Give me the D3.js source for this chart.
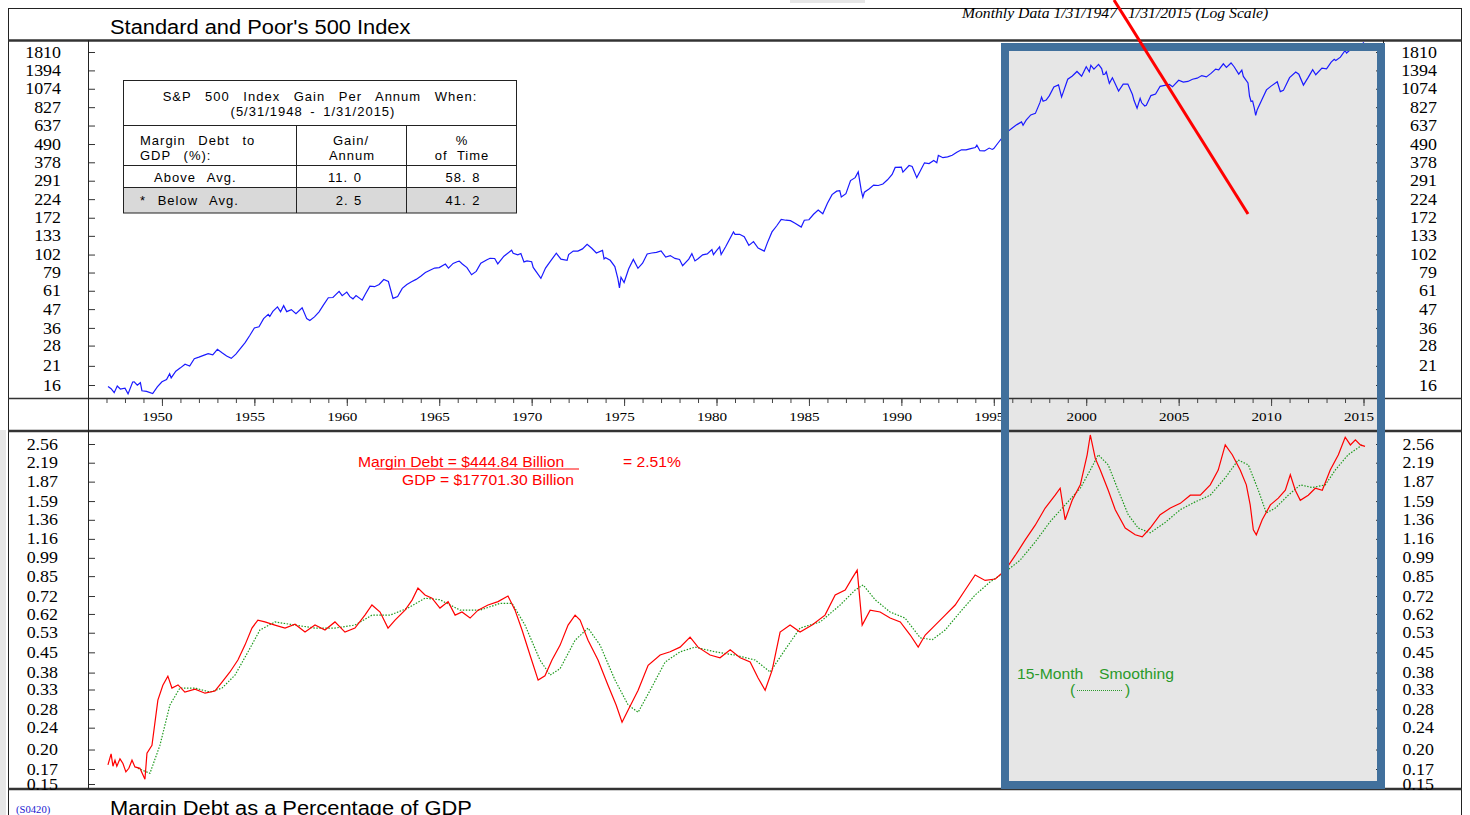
<!DOCTYPE html>
<html>
<head>
<meta charset="utf-8">
<script src="https://cdn.jsdelivr.net/npm/d3@7"></script>
<style>
  body { margin: 0; background: #fff; }
  svg { display: block; }
</style>
</head>
<body>
<svg width="1470" height="815"></svg>
<script>
// S&P 500 month-end closes
const spx = [
  ['1947-01',15.66],['1947-03',15.17],['1947-05',14.34],['1947-07',15.77],['1947-09',15.11],['1947-12',15.30],
  ['1948-02',14.10],['1948-05',16.69],['1948-06',16.74],['1948-08',15.97],['1948-10',16.54],['1948-11',14.75],
  ['1949-02',14.62],['1949-06',14.16],['1949-09',15.58],['1949-12',16.76],
  ['1950-03',17.29],['1950-05',18.78],['1950-06',17.69],['1950-09',19.45],['1950-12',20.41],
  ['1951-03',21.48],['1951-06',20.96],['1951-09',23.26],['1951-12',23.77],
  ['1952-03',24.37],['1952-06',24.96],['1952-09',24.54],['1952-12',26.57],
  ['1953-03',25.29],['1953-06',24.14],['1953-09',23.35],['1953-12',24.81],
  ['1954-03',26.94],['1954-06',29.21],['1954-09',32.31],['1954-12',35.98],
  ['1955-03',36.58],['1955-06',41.03],['1955-09',43.67],['1955-10',42.34],['1955-12',45.48],
  ['1956-03',48.48],['1956-05',45.20],['1956-07',49.39],['1956-09',45.35],['1956-12',46.67],
  ['1957-03',44.11],['1957-07',47.91],['1957-10',41.06],['1957-12',39.99],
  ['1958-03',42.10],['1958-06',45.24],['1958-09',50.06],['1958-12',55.21],
  ['1959-03',55.44],['1959-07',60.51],['1959-09',56.88],['1959-12',59.89],
  ['1960-02',56.12],['1960-04',54.37],['1960-06',56.92],['1960-10',53.39],['1960-12',58.11],
  ['1961-03',65.06],['1961-06',64.64],['1961-09',66.73],['1961-12',71.55],
  ['1962-03',69.55],['1962-06',54.75],['1962-09',56.27],['1962-12',63.10],
  ['1963-03',66.57],['1963-06',69.37],['1963-09',71.70],['1963-12',75.02],
  ['1964-03',78.98],['1964-06',81.69],['1964-09',84.18],['1964-12',84.75],
  ['1965-04',89.11],['1965-06',84.12],['1965-09',89.96],['1965-12',92.43],
  ['1966-01',92.88],['1966-03',89.23],['1966-06',84.74],['1966-09',76.56],['1966-12',80.33],
  ['1967-03',90.20],['1967-07',94.75],['1967-09',96.71],['1967-12',96.47],
  ['1968-02',89.36],['1968-06',99.58],['1968-11',108.37],['1968-12',103.86],
  ['1969-03',101.51],['1969-05',103.46],['1969-07',91.83],['1969-09',93.12],['1969-12',92.06],
  ['1970-01',85.02],['1970-06',72.72],['1970-09',84.21],['1970-12',92.15],
  ['1971-04',103.95],['1971-07',95.58],['1971-11',93.99],['1971-12',102.09],
  ['1972-03',107.20],['1972-06',107.14],['1972-09',110.55],['1972-12',118.05],
  ['1973-03',111.52],['1973-06',104.26],['1973-10',108.29],['1973-11',95.96],['1973-12',97.55],
  ['1974-03',93.98],['1974-06',86.00],['1974-08',72.15],['1974-09',63.54],['1974-10',73.90],['1974-12',68.56],
  ['1975-03',83.36],['1975-06',95.19],['1975-09',83.87],['1975-12',90.19],
  ['1976-03',102.77],['1976-06',104.28],['1976-09',105.24],['1976-12',107.46],
  ['1977-03',98.42],['1977-06',100.48],['1977-09',96.53],['1977-12',95.10],
  ['1978-02',87.04],['1978-06',95.53],['1978-08',103.29],['1978-10',93.15],['1978-12',96.11],
  ['1979-03',101.59],['1979-06',102.91],['1979-09',109.32],['1979-10',101.82],['1979-12',107.94],
  ['1980-02',113.66],['1980-03',102.09],['1980-06',114.24],['1980-11',140.52],['1980-12',135.76],
  ['1981-03',136.00],['1981-06',131.21],['1981-09',116.18],['1981-12',122.55],
  ['1982-03',111.96],['1982-07',107.09],['1982-09',120.42],['1982-12',140.64],
  ['1983-03',152.96],['1983-06',168.11],['1983-09',166.07],['1983-12',164.93],
  ['1984-03',159.18],['1984-07',150.66],['1984-09',166.10],['1984-12',167.24],
  ['1985-03',180.66],['1985-06',191.85],['1985-09',182.08],['1985-12',211.28],
  ['1986-03',238.90],['1986-06',250.84],['1986-08',252.93],['1986-09',231.32],['1986-12',242.17],
  ['1987-03',291.70],['1987-06',304.00],['1987-08',329.80],['1987-10',251.79],['1987-11',230.30],['1987-12',247.08],
  ['1988-03',258.89],['1988-06',273.50],['1988-09',271.91],['1988-12',277.72],
  ['1989-03',294.87],['1989-06',317.98],['1989-08',351.45],['1989-12',353.40],
  ['1990-01',329.08],['1990-05',361.23],['1990-07',356.15],['1990-10',304.00],['1990-12',330.22],
  ['1991-03',375.22],['1991-06',371.16],['1991-09',387.86],['1991-11',375.22],['1991-12',417.09],
  ['1992-03',403.69],['1992-06',408.14],['1992-09',417.80],['1992-12',435.71],
  ['1993-03',451.67],['1993-06',450.53],['1993-09',458.93],['1993-12',466.45],
  ['1994-01',481.61],['1994-03',445.77],['1994-06',444.27],['1994-09',462.69],['1994-11',453.69],['1994-12',459.27],
  ['1995-03',500.71],['1995-06',544.75],['1995-09',584.41],['1995-12',615.93],
  ['1996-03',645.50],['1996-06',670.63],['1996-07',639.95],['1996-09',687.31],['1996-12',740.74],
  ['1997-03',757.12],['1997-06',885.14],['1997-07',954.29],['1997-08',899.47],['1997-10',914.62],['1997-12',970.43],
  ['1998-03',1101.75],['1998-06',1133.84],['1998-08',957.28],['1998-09',1017.01],['1998-12',1229.23],
  ['1999-03',1286.37],['1999-06',1372.71],['1999-09',1282.71],['1999-12',1469.25],
  ['2000-02',1366.42],['2000-03',1498.58],['2000-05',1420.60],['2000-08',1517.68],['2000-10',1429.40],['2000-11',1314.95],['2000-12',1320.28],
  ['2001-01',1366.01],['2001-03',1160.33],['2001-05',1255.82],['2001-09',1040.94],['2001-12',1148.08],
  ['2002-03',1147.39],['2002-06',989.82],['2002-07',911.62],['2002-09',815.28],['2002-11',936.31],['2002-12',879.82],
  ['2003-02',841.15],['2003-03',848.18],['2003-06',974.50],['2003-09',995.97],['2003-12',1111.92],
  ['2004-03',1126.21],['2004-06',1140.84],['2004-08',1104.24],['2004-12',1211.92],
  ['2005-03',1180.59],['2005-06',1191.33],['2005-09',1228.81],['2005-12',1248.29],
  ['2006-03',1294.87],['2006-06',1270.20],['2006-09',1335.85],['2006-12',1418.30],
  ['2007-02',1406.82],['2007-05',1530.62],['2007-07',1455.27],['2007-10',1549.38],['2007-12',1468.36],
  ['2008-03',1322.70],['2008-05',1400.38],['2008-06',1280.00],['2008-09',1166.36],['2008-10',968.75],['2008-11',896.24],['2008-12',903.25],
  ['2009-01',825.88],['2009-02',735.09],['2009-03',797.87],['2009-06',919.32],['2009-09',1057.08],['2009-12',1115.10],
  ['2010-04',1186.69],['2010-06',1030.71],['2010-08',1049.33],['2010-12',1257.64],
  ['2011-04',1363.61],['2011-06',1320.64],['2011-09',1131.42],['2011-12',1257.60],
  ['2012-03',1408.47],['2012-05',1310.33],['2012-09',1440.67],['2012-12',1426.19],
  ['2013-03',1569.19],['2013-05',1630.74],['2013-06',1606.28],['2013-09',1681.55],['2013-12',1848.36],
  ['2014-01',1782.59],['2014-06',1960.23],['2014-09',1972.29],['2014-12',2058.90],
  ['2015-01',1994.99]
];

// margin debt as % of GDP (red), [year, %]
const marginPct = [
  [1947.08,0.176],[1947.25,0.193],[1947.35,0.174],[1947.46,0.183],[1947.56,0.174],[1947.73,0.185],[1947.89,0.178],
  [1948.05,0.166],[1948.21,0.171],[1948.38,0.183],[1948.54,0.173],[1948.81,0.171],[1949.08,0.156],[1949.19,0.194],
  [1949.46,0.207],[1949.78,0.302],[1950.05,0.342],[1950.32,0.369],[1950.54,0.334],[1950.87,0.343],[1951.24,0.323],
  [1951.79,0.331],[1952.33,0.320],[1952.87,0.326],[1953.25,0.351],[1953.68,0.382],[1954.11,0.422],[1954.49,0.478],
  [1954.87,0.551],[1955.19,0.589],[1955.57,0.580],[1956.11,0.565],[1956.66,0.551],[1957.2,0.569],[1957.74,0.533],
  [1958.28,0.565],[1958.82,0.542],[1959.36,0.580],[1959.9,0.533],[1960.44,0.551],[1960.98,0.614],[1961.36,0.668],
  [1961.8,0.630],[1962.23,0.551],[1962.61,0.589],[1963.15,0.640],[1963.53,0.696],[1963.85,0.770],[1964.23,0.726],
  [1964.61,0.707],[1965.04,0.651],[1965.48,0.687],[1965.86,0.614],[1966.23,0.630],[1966.67,0.599],[1967.1,0.640],
  [1967.64,0.668],[1968.18,0.687],[1968.72,0.720],[1969.1,0.640],[1969.48,0.542],[1969.91,0.440],[1970.35,0.357],
  [1970.72,0.370],[1971.1,0.422],[1971.54,0.478],[1971.97,0.565],[1972.35,0.614],[1972.62,0.589],[1973.05,0.498],
  [1973.59,0.422],[1974.13,0.342],[1974.57,0.290],[1974.89,0.251],[1975.22,0.278],[1975.76,0.328],[1976.3,0.404],
  [1976.95,0.440],[1977.49,0.452],[1978.03,0.470],[1978.57,0.511],[1979.0,0.470],[1979.65,0.440],[1980.19,0.430],
  [1980.74,0.460],[1981.28,0.430],[1981.82,0.415],[1982.25,0.363],[1982.63,0.328],[1983.01,0.388],[1983.44,0.533],
  [1983.98,0.565],[1984.52,0.533],[1985.17,0.565],[1985.87,0.614],[1986.42,0.726],[1986.96,0.757],[1987.34,0.836],
  [1987.61,0.894],[1987.88,0.565],[1988.31,0.640],[1988.85,0.630],[1989.39,0.599],[1989.94,0.580],[1990.48,0.520],
  [1990.91,0.470],[1991.29,0.520],[1991.83,0.565],[1992.37,0.614],[1992.91,0.668],[1993.45,0.757],[1993.99,0.858],
  [1994.53,0.820],[1995.08,0.830],[1995.62,0.894],[1996.16,1.01],[1996.7,1.15],[1997.24,1.30],[1997.78,1.50],
  [1998.32,1.67],[1998.59,1.77],[1998.86,1.36],[1999.24,1.60],[1999.68,1.82],[2000.05,2.34],[2000.22,2.76],
  [2000.49,2.27],[2000.76,2.06],[2001.19,1.74],[2001.57,1.48],[2002.11,1.27],[2002.65,1.20],[2003.03,1.18],
  [2003.46,1.27],[2004.0,1.42],[2004.55,1.50],[2005.09,1.56],[2005.63,1.67],[2006.17,1.67],[2006.71,1.82],
  [2007.14,2.06],[2007.52,2.54],[2007.9,2.34],[2008.33,2.06],[2008.66,1.82],[2008.87,1.54],[2009.04,1.25],
  [2009.2,1.20],[2009.52,1.36],[2009.96,1.54],[2010.39,1.63],[2010.77,1.74],[2011.04,1.98],[2011.31,1.74],
  [2011.58,1.60],[2012.01,1.67],[2012.39,1.77],[2012.77,1.74],[2013.2,2.06],[2013.64,2.34],[2014.01,2.71],
  [2014.29,2.54],[2014.56,2.65],[2014.83,2.54],[2015.08,2.51]
];

// 15-month smoothing (green dotted), [year, %]
const marginSmooth = [
  [1948.7,0.171],[1949.35,0.164],[1949.89,0.207],[1950.43,0.290],[1950.97,0.334],[1951.79,0.334],[1952.6,0.323],
  [1953.25,0.334],[1953.95,0.372],[1954.65,0.451],[1955.3,0.542],[1956.11,0.580],[1957.2,0.565],[1958.28,0.551],
  [1959.36,0.551],[1960.44,0.565],[1961.36,0.614],[1962.34,0.614],[1963.31,0.651],[1964.23,0.707],[1965.04,0.698],
  [1966.13,0.640],[1967.21,0.640],[1968.29,0.677],[1968.94,0.677],[1969.64,0.565],[1970.45,0.422],[1971.0,0.372],
  [1971.54,0.393],[1972.35,0.498],[1973.05,0.551],[1973.7,0.478],[1974.51,0.357],[1975.22,0.290],[1975.76,0.273],
  [1976.41,0.328],[1977.22,0.415],[1978.03,0.452],[1978.84,0.470],[1979.92,0.452],[1981.0,0.440],[1982.09,0.422],
  [1982.9,0.382],[1983.71,0.460],[1984.52,0.551],[1985.61,0.580],[1986.69,0.668],[1987.5,0.757],[1987.93,0.790],
  [1988.58,0.698],[1989.39,0.630],[1990.2,0.599],[1991.02,0.508],[1991.67,0.500],[1992.37,0.542],[1993.18,0.630],
  [1993.99,0.726],[1994.8,0.810],[1995.62,0.880],[1996.43,0.972],[1997.24,1.13],[1998.05,1.34],[1998.86,1.54],
  [1999.68,1.77],[2000.22,2.06],[2000.65,2.34],[2001.19,2.15],[2001.73,1.74],[2002.27,1.42],[2002.81,1.27],
  [2003.46,1.22],[2004.27,1.33],[2005.09,1.48],[2005.9,1.58],[2006.71,1.67],[2007.52,1.93],[2008.22,2.24],
  [2008.77,2.15],[2009.31,1.74],[2009.74,1.44],[2010.23,1.50],[2010.93,1.67],[2011.58,1.82],[2012.23,1.78],
  [2012.93,1.82],[2013.47,2.06],[2014.17,2.34],[2014.93,2.54]
];

const spxTicks = [16, 21, 28, 36, 47, 61, 79, 102, 133, 172, 224, 291, 378, 490, 637, 827, 1074, 1394, 1810];
const marginTicks = [0.15, 0.17, 0.20, 0.24, 0.28, 0.33, 0.38, 0.45, 0.53, 0.62, 0.72, 0.85, 0.99, 1.16, 1.36, 1.59, 1.87, 2.19, 2.56];
const yearLabels = [1950, 1955, 1960, 1965, 1970, 1975, 1980, 1985, 1990, 1995, 2000, 2005, 2010, 2015];
const yearTicks = d3.range(1947, 2016);

const tableRows = [
  ['Above Avg.', '11. 0', '58. 8'],
  ['* Below Avg.', '2. 5', '41. 2']
];

const svg = d3.select('svg');
svg.selectAll('*').remove();

const left = 88, right = 1383;
const x = d3.scaleLinear().domain([1946, 2016]).range([left, 1382]);
const ySpx = d3.scaleLog().domain([16, 1810]).range([385, 52]);
const yMar = d3.scaleLog().domain([0.15, 2.56]).range([784, 444]);

const parseMonth = s => +s.slice(0, 4) + (+s.slice(5, 7)) / 12;

// text in the original is drawn a little wide
function stretch(sel, k = 1.12) {
  sel.each(function() {
    const w = this.getComputedTextLength();
    d3.select(this).attr('textLength', w * k).attr('lengthAdjust', 'spacingAndGlyphs');
  });
}

svg.append('rect').attr('width', 1470).attr('height', 815).attr('fill', '#fff');
svg.append('rect').attr('x', 790).attr('y', 0).attr('width', 75).attr('height', 3).attr('fill', '#e6e6e6');
svg.append('rect').attr('x', 0).attr('y', 430).attr('width', 6).attr('height', 385).attr('fill', '#e6e6e6');

// shaded box behind the lines
svg.append('rect')
  .attr('x', 1005).attr('y', 47).attr('width', 376).attr('height', 738)
  .attr('fill', '#e6e6e6');

// frame
const frame = svg.append('g').attr('stroke', '#222').attr('fill', 'none');
frame.append('line').attr('x1', 8).attr('x2', 1462).attr('y1', 8.5).attr('y2', 8.5).attr('stroke-width', 1);
frame.append('line').attr('x1', 8.5).attr('x2', 8.5).attr('y1', 8).attr('y2', 815).attr('stroke-width', 1);
frame.append('line').attr('x1', 1461.5).attr('x2', 1461.5).attr('y1', 8).attr('y2', 815).attr('stroke-width', 1);
frame.append('line').attr('x1', 8).attr('x2', 1462).attr('y1', 40.5).attr('y2', 40.5).attr('stroke-width', 2.5).attr('stroke', '#333');
frame.append('line').attr('x1', 8).attr('x2', 1462).attr('y1', 398.5).attr('y2', 398.5).attr('stroke-width', 1.5).attr('stroke', '#333');
frame.append('line').attr('x1', 8).attr('x2', 1462).attr('y1', 431).attr('y2', 431).attr('stroke-width', 2.5).attr('stroke', '#333');
frame.append('line').attr('x1', 8).attr('x2', 1462).attr('y1', 789).attr('y2', 789).attr('stroke-width', 2.5).attr('stroke', '#333');

// y axes, top panel
const axTop = svg.append('g').attr('transform', `translate(${left},0)`)
  .call(d3.axisLeft(ySpx).tickValues(spxTicks).tickFormat(d3.format('d')).tickSize(-7).tickPadding(27));
const axTopR = svg.append('g').attr('transform', `translate(${right},0)`)
  .call(d3.axisRight(ySpx).tickValues(spxTicks).tickFormat(d3.format('d')).tickSize(-7).tickPadding(54));
// y axes, bottom panel
const axBot = svg.append('g').attr('transform', `translate(${left},0)`)
  .call(d3.axisLeft(yMar).tickValues(marginTicks).tickFormat(d3.format('.2f')).tickSize(-7).tickPadding(30));
const axBotR = svg.append('g').attr('transform', `translate(${right},0)`)
  .call(d3.axisRight(yMar).tickValues(marginTicks).tickFormat(d3.format('.2f')).tickSize(-7).tickPadding(51));

[axTop, axTopR, axBot, axBotR].forEach(g => {
  g.select('.domain').remove();
  g.selectAll('.tick line').attr('stroke', '#333');
  g.selectAll('text').attr('font-family', '"Liberation Serif", "Times New Roman", serif')
    .attr('font-size', 16).attr('fill', '#000');
});
[axTopR, axBotR].forEach(g => g.selectAll('text').attr('text-anchor', 'end'));

// axis lines (full height)
svg.append('line').attr('x1', left + 0.5).attr('x2', left + 0.5).attr('y1', 40).attr('y2', 789).attr('stroke', '#222');
svg.append('line').attr('x1', right + 0.5).attr('x2', right + 0.5).attr('y1', 40).attr('y2', 789).attr('stroke', '#222');

// x axis in the middle strip
const axX = svg.append('g').attr('transform', 'translate(0,399)')
  .call(d3.axisBottom(x).tickValues(yearTicks).tickSize(4).tickFormat(''));
axX.select('.domain').remove();
axX.selectAll('.tick line').attr('stroke', '#444');
const axXMaj = svg.append('g').attr('transform', 'translate(0,399)')
  .call(d3.axisBottom(x).tickValues(yearLabels).tickSize(7).tickPadding(5).tickFormat(d3.format('d')));
axXMaj.select('.domain').remove();
axXMaj.selectAll('.tick line').attr('stroke', '#444');
axXMaj.selectAll('text')
  .attr('font-family', '"Liberation Serif", "Times New Roman", serif')
  .attr('font-size', 13.5).attr('fill', '#000').attr('dx', -5);

// lines
const lineSpx = d3.line().x(d => x(parseMonth(d[0]))).y(d => ySpx(d[1]));
const lineMar = d3.line().x(d => x(d[0])).y(d => yMar(d[1]));

svg.append('path').attr('d', lineSpx(spx))
  .attr('fill', 'none').attr('stroke', '#1a1aff').attr('stroke-width', 1.2);
svg.append('path').attr('d', lineMar(marginSmooth))
  .attr('fill', 'none').attr('stroke', '#1f9a1f').attr('stroke-width', 1.2).attr('stroke-dasharray', '1.5,1.5');
svg.append('path').attr('d', lineMar(marginPct))
  .attr('fill', 'none').attr('stroke', '#ff0000').attr('stroke-width', 1.2);

// highlight box border
svg.append('rect')
  .attr('x', 1005).attr('y', 47).attr('width', 376).attr('height', 738)
  .attr('fill', 'none').attr('stroke', '#41709c').attr('stroke-width', 8);

// red pointer
svg.append('line').attr('x1', 1114).attr('y1', 0).attr('x2', 1248).attr('y2', 214)
  .attr('stroke', '#ff0000').attr('stroke-width', 3);

// titles
const sans = 'Arial, "Liberation Sans", Helvetica, sans-serif';
const serif = '"Liberation Serif", "Times New Roman", serif';
svg.append('text').attr('x', 110).attr('y', 34).text("Standard and Poor's 500 Index")
  .attr('font-family', sans).attr('font-size', 19.5).attr('fill', '#000');
svg.append('text').attr('x', 110).attr('y', 815).text('Margin Debt as a Percentage of GDP')
  .attr('font-family', sans).attr('font-size', 19.5).attr('fill', '#000');
svg.append('text').attr('x', 16).attr('y', 813).text('(S0420)')
  .attr('font-family', serif).attr('font-size', 9.5).attr('fill', '#1a1ad0');
svg.append('text').attr('x', 1117).attr('y', 18).attr('text-anchor', 'end').text('Monthly Data 1/31/1947')
  .attr('font-family', serif).attr('font-style', 'italic').attr('font-size', 14).attr('fill', '#000');
svg.append('text').attr('x', 1128).attr('y', 18).text('1/31/2015 (Log Scale)')
  .attr('font-family', serif).attr('font-style', 'italic').attr('font-size', 14).attr('fill', '#000');

// margin debt annotation
const red = svg.append('g').attr('font-family', sans).attr('font-size', 14).attr('fill', '#ff0000');
red.append('text').attr('x', 358).attr('y', 467).text('Margin Debt = $444.84 Billion');
red.append('text').attr('x', 623).attr('y', 467).text('= 2.51%');
red.append('text').attr('x', 402).attr('y', 485).text('GDP = $17701.30 Billion');
svg.append('line').attr('x1', 375).attr('x2', 579).attr('y1', 469).attr('y2', 469)
  .attr('stroke', '#ff0000').attr('stroke-width', 1);

// smoothing legend
const grn = svg.append('g').attr('font-family', sans).attr('font-size', 14).attr('fill', '#2a9a2a');
grn.append('text').attr('x', 1017).attr('y', 679).text('15-Month');
grn.append('text').attr('x', 1099).attr('y', 679).text('Smoothing');
grn.append('text').attr('x', 1070).attr('y', 695).text('(');
grn.append('text').attr('x', 1125).attr('y', 695).text(')');
svg.append('line').attr('x1', 1077).attr('x2', 1123).attr('y1', 690.5).attr('y2', 690.5)
  .attr('stroke', '#2a9a2a').attr('stroke-width', 1).attr('stroke-dasharray', '1,1');

svg.selectAll('text').call(stretch);

// table
const tbl = svg.append('g').attr('font-family', sans).attr('font-size', 13)
  .attr('letter-spacing', 1).attr('word-spacing', 5).attr('fill', '#000');
tbl.append('rect').attr('x', 123.5).attr('y', 187.5).attr('width', 393).attr('height', 25.5).attr('fill', '#d9d9d9');
tbl.append('rect').attr('x', 123.5).attr('y', 80.5).attr('width', 393).attr('height', 132.5)
  .attr('fill', 'none').attr('stroke', '#222');
[125.5, 165.5, 187.5].forEach(yy => tbl.append('line').attr('x1', 123.5).attr('x2', 516.5)
  .attr('y1', yy).attr('y2', yy).attr('stroke', '#222'));
[296.5, 406.5].forEach(xx => tbl.append('line').attr('x1', xx).attr('x2', xx)
  .attr('y1', 125.5).attr('y2', 213).attr('stroke', '#222'));
tbl.append('text').attr('x', 320).attr('y', 101).attr('text-anchor', 'middle').attr('word-spacing', 9)
  .text('S&P 500 Index Gain Per Annum When:');
tbl.append('text').attr('x', 313).attr('y', 116).attr('text-anchor', 'middle').attr('word-spacing', 3)
  .text('(5/31/1948 - 1/31/2015)');
tbl.append('text').attr('x', 140).attr('y', 145).attr('word-spacing', 8).text('Margin Debt to');
tbl.append('text').attr('x', 140).attr('y', 160).attr('word-spacing', 8).text('GDP (%):');
tbl.append('text').attr('x', 351).attr('y', 145).attr('text-anchor', 'middle').text('Gain/');
tbl.append('text').attr('x', 352).attr('y', 160).attr('text-anchor', 'middle').text('Annum');
tbl.append('text').attr('x', 462).attr('y', 145).attr('text-anchor', 'middle').text('%');
tbl.append('text').attr('x', 462).attr('y', 160).attr('text-anchor', 'middle').text('of Time');
tableRows.forEach((r, i) => {
  const yy = i === 0 ? 182 : 205;
  tbl.append('text').attr('x', i === 0 ? 154 : 140).attr('y', yy).attr('word-spacing', 7).text(r[0]);
  tbl.append('text').attr('x', i === 0 ? 345 : 349).attr('y', yy).attr('text-anchor', 'middle').attr('word-spacing', 1).text(r[1]);
  tbl.append('text').attr('x', 463).attr('y', yy).attr('text-anchor', 'middle').attr('word-spacing', 1).text(r[2]);
});
</script>
</body>
</html>
